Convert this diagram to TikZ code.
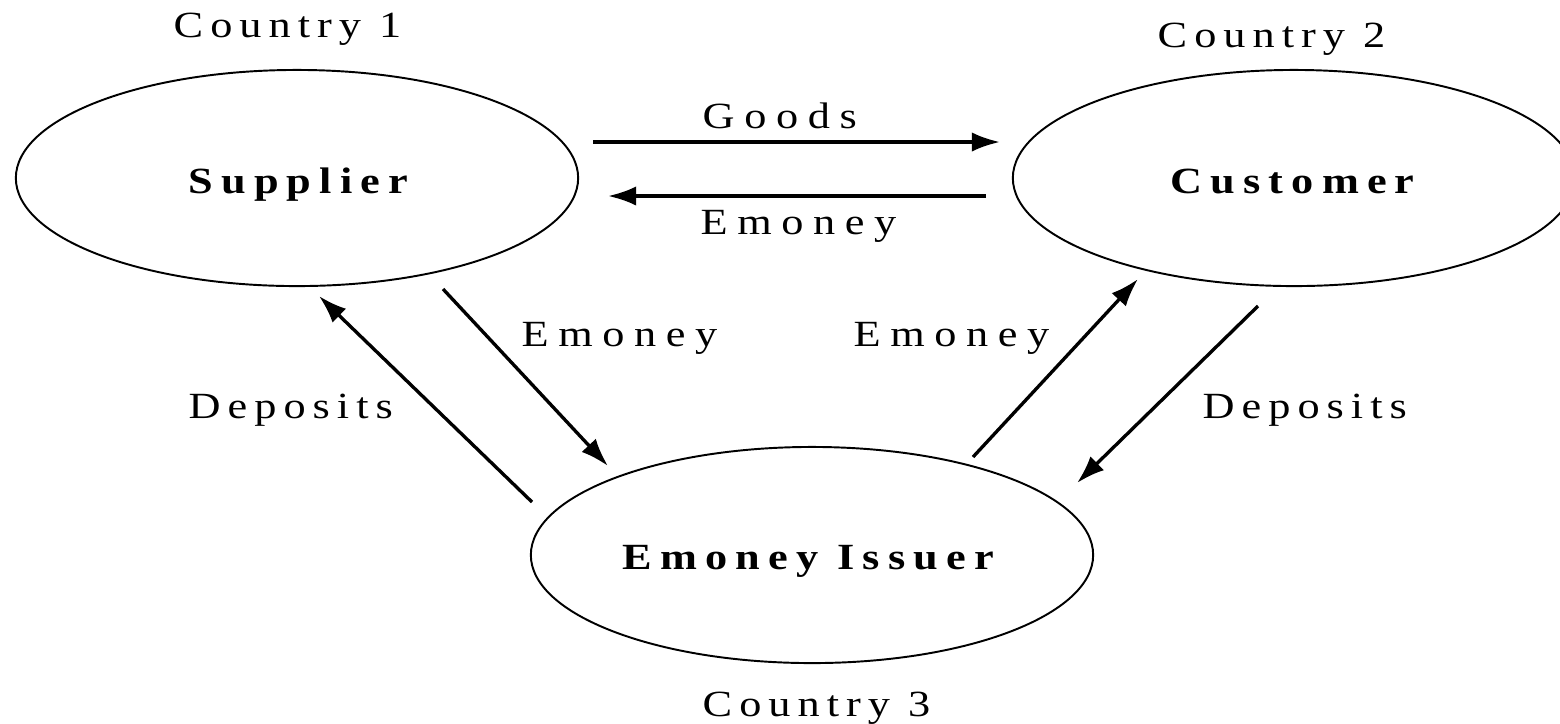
\documentclass[tikz,border=0pt]{standalone}
\usepackage{fontspec}
\setmainfont{Liberation Serif}
\newfontfamily\lsA[FakeStretch=1.2,LetterSpace=19]{Liberation Serif}
\newfontfamily\lsB[FakeStretch=1.2,LetterSpace=26]{Liberation Serif}
\newfontfamily\lsC[FakeStretch=1.2,LetterSpace=22]{Liberation Serif}
\usetikzlibrary{shapes.geometric,arrows.meta}
\tikzset{
  ell/.style={draw, ellipse, line width=0.55pt, minimum width=5.62cm, minimum height=2.16cm, inner sep=0pt},
  lab/.style={anchor=base west, inner sep=0pt, font=\fontsize{10.5}{12}\selectfont\lsA},
  labw/.style={anchor=base west, inner sep=0pt, font=\fontsize{10.5}{12}\selectfont\lsB},
  actor/.style={anchor=base west, inner sep=0pt, font=\fontsize{10.5}{12}\selectfont\lsC\bfseries},
  flow/.style={-{Latex[length=8pt,width=5.5pt]}, line width=0.95pt},
}
\begin{document}
\begin{tikzpicture}[x=0.01cm,y=-0.01cm]
\clip (0,0) rectangle (1560,723);
\fill[white] (0,0) rectangle (1560,723);
% ellipses
\node[ell] (sup) at (297,178) {};
\node[ell] (cus) at (1294,178) {};
\node[ell] (iss) at (812,555) {};
% ellipse texts
\node[actor] (supt) at (188,193) {Supplier};
\node[actor] (cust) at (1170,193) {Customer};
\node[actor] (isst) at (622,569) {Emoney Issuer};
% country labels
\node[lab] (c1) at (173,37) {Country 1};
\node[lab] (c2) at (1157,47) {Country 2};
\node[lab] (c3) at (702,716) {Country 3};
% arrow end points
\coordinate (g1) at (593,142);  \coordinate (g2) at (1000,142);
\coordinate (e1) at (986,196);  \coordinate (e2) at (608,196);
\coordinate (a1) at (443,289);  \coordinate (a2) at (608,466);
\coordinate (b1) at (532,502);  \coordinate (b2) at (319,296);
\coordinate (d1) at (973,457);  \coordinate (d2) at (1138,279);
\coordinate (f1) at (1258,306); \coordinate (f2) at (1077,483);
% connectors
\draw[flow] (g1) -- (g2);
\draw[flow] (e1) -- (e2);
\draw[flow] (a1) -- (a2);
\draw[flow] (b1) -- (b2);
\draw[flow] (d1) -- (d2);
\draw[flow] (f1) -- (f2);
% connector labels
\node[labw] (lg) at (702,128) {Goods};
\node[labw] (le) at (700,234) {Emoney};
\node[labw] (la) at (521,346) {Emoney};
\node[labw] (ld) at (853,346) {Emoney};
\node[lab] (lb) at (188,418) {Deposits};
\node[lab] (lf) at (1202,418) {Deposits};
\end{tikzpicture}
\end{document}
